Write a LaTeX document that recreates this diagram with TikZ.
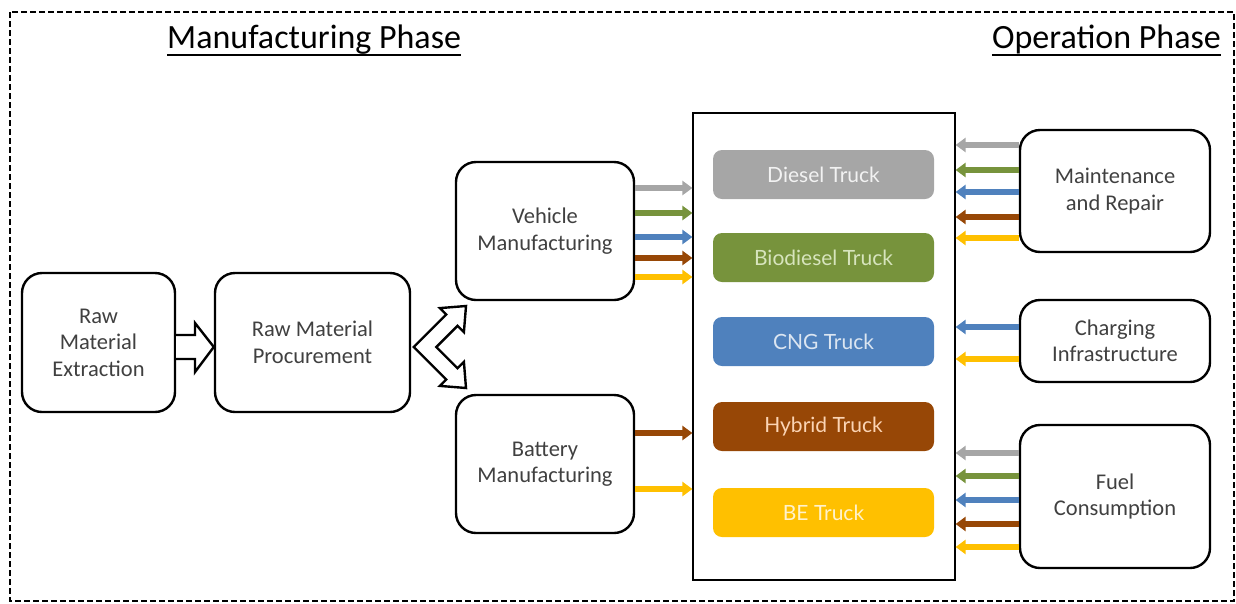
\documentclass[tikz,border=0pt]{standalone}
\usepackage{fontspec}
\setmainfont{Carlito}
\newfontfamily\truckfont{Lato}
\usepackage{xcolor}
\usepackage{tikz}
\usetikzlibrary{positioning, arrows.meta, calc}

\definecolor{dieselgray}{RGB}{166,166,166}
\definecolor{biogreen}{RGB}{119,147,60}
\definecolor{cngblue}{RGB}{79,129,189}
\definecolor{hybridbrown}{RGB}{151,71,6}
\definecolor{beyellow}{RGB}{255,192,0}
\definecolor{dieseltext}{RGB}{242,242,242}
\definecolor{biotext}{RGB}{215,228,189}
\definecolor{cngtext}{RGB}{219,229,241}
\definecolor{hybridtext}{RGB}{251,212,180}
\definecolor{betext}{RGB}{255,242,204}
\definecolor{boxtext}{RGB}{64,64,64}

\begin{document}
\begin{tikzpicture}[
        x=1pt, y=-1pt,
        phase/.style={inner sep=0pt, font=\fontsize{34}{36}\selectfont},
        block/.style={draw=black, line width=2.4pt, rounded corners=20pt, align=center, inner sep=0pt, text=boxtext, font=\fontsize{22.5}{26.5}\selectfont},
        truck/.style={rounded corners=9pt, minimum width=221pt, minimum height=49pt, inner sep=0pt, font=\truckfont\fontsize{21}{24}\selectfont},
        feed/.style={line width=6pt, -{Triangle[length=10pt,width=14pt]}},
        hollow/.style={draw=black, line width=2.4pt, fill=white, line join=miter},
    ]
    \useasboundingbox (0,0) rectangle (1236,603);
    \draw[line width=1.5pt, dash pattern=on 6pt off 3pt] (10,12) rectangle (1234,601);
    % PHASES
    \node[phase, anchor=base west] (mfg) at (167,48) {Manufacturing Phase};
    \node[phase, anchor=base east] (ops) at (1221,48) {Operation Phase};
    \draw[line width=2pt] ([yshift=-7pt]mfg.base west) -- ([yshift=-7pt]mfg.base east);
    \draw[line width=2pt] ([yshift=-7pt]ops.base west) -- ([yshift=-7pt]ops.base east);
    % MANUFACTURING
    \node[block, minimum width=153pt, minimum height=139pt] (rme) at (98.5,342.5) {Raw\\Material\\Extraction};
    \node[block, minimum width=195pt, minimum height=139pt] (rmp) at (312.5,342.5) {Raw Material\\Procurement};
    \node[block, minimum width=178pt, minimum height=138pt] (vm) at (545,231) {Vehicle\\Manufacturing};
    \node[block, minimum width=178pt, minimum height=138pt] (bm) at (545,464) {Battery\\Manufacturing};
    \draw[hollow] (rme.east |- 0,335) -- (195,335) -- (195,323) -- (rmp.west |- 0,347) -- (195,372) -- (195,359) -- (rme.east |- 0,359);
    \draw[hollow] (413.7,347) -- (446.2,314.5) -- (439.9,308.1) -- (466.0,306.0) -- (463.9,332.2) -- (457.5,325.8)
        -- (436.3,347) -- (457.5,368.2) -- (463.9,361.8) -- (466.0,388.0) -- (439.9,385.9) -- (446.2,379.5) -- cycle;
    % TRUCKS
    \node[draw=black, line width=1.2pt, minimum width=262pt, minimum height=467pt, inner sep=0pt] (panel) at (824,346.5) {};
    \foreach \n/\c/\tc/\y/\t in {diesel/dieselgray/dieseltext/174.5/Diesel Truck, bio/biogreen/biotext/257.5/Biodiesel Truck,
            cng/cngblue/cngtext/341.5/CNG Truck, hybrid/hybridbrown/hybridtext/426.5/Hybrid Truck, be/beyellow/betext/512.5/BE Truck}
        \node[truck, fill=\c, text=\tc] (\n) at (823.5,\y) {\t};
    \foreach \y/\c in {188/dieselgray, 213/biogreen, 237/cngblue, 258/hybridbrown, 277/beyellow}
        \draw[feed, \c] (vm.east |- 0,\y) -- (panel.west |- 0,\y);
    \foreach \y/\c in {433/hybridbrown, 489/beyellow}
        \draw[feed, \c] (bm.east |- 0,\y) -- (panel.west |- 0,\y);
    % OPERATION
    \node[block, minimum width=190pt, minimum height=122pt] (mr) at (1115,191) {Maintenance\\and Repair};
    \node[block, minimum width=190pt, minimum height=82pt] (ci) at (1115,341) {Charging\\Infrastructure};
    \node[block, minimum width=190pt, minimum height=143pt] (fc) at (1115,496.5) {Fuel\\Consumption};
    \foreach \y/\c in {145/dieselgray, 170/biogreen, 192/cngblue, 217/hybridbrown, 238/beyellow}
        \draw[feed, \c] (mr.west |- 0,\y) -- (panel.east |- 0,\y);
    \foreach \y/\c in {327/cngblue, 359/beyellow}
        \draw[feed, \c] (ci.west |- 0,\y) -- (panel.east |- 0,\y);
    \foreach \y/\c in {453/dieselgray, 476/biogreen, 500/cngblue, 524/hybridbrown, 547/beyellow}
        \draw[feed, \c] (fc.west |- 0,\y) -- (panel.east |- 0,\y);
\end{tikzpicture}
\end{document}
